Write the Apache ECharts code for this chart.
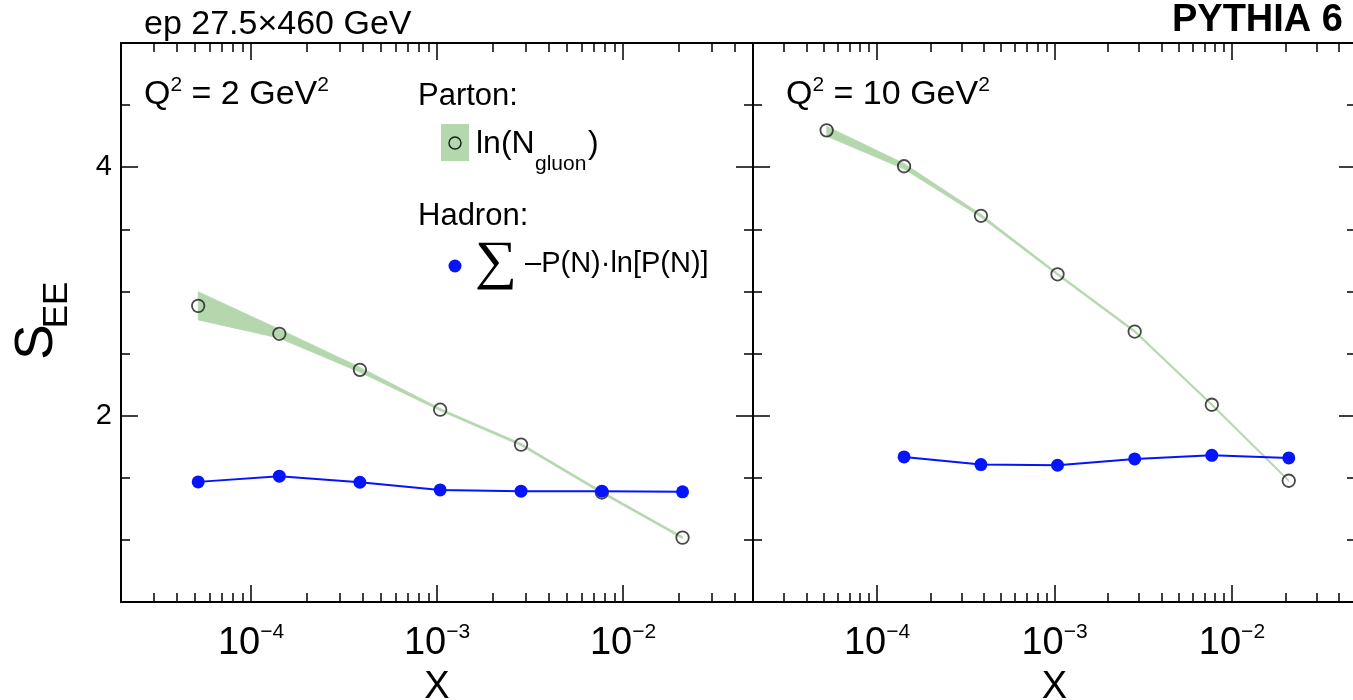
<!DOCTYPE html>
<html>
<head>
<meta charset="utf-8">
<title>S_EE vs x</title>
<script src="https://cdn.jsdelivr.net/npm/echarts@6/dist/echarts.min.js"></script>
<style>
html, body { margin:0; padding:0; background:#fff; }
#main { width:1353px; height:700px; }
</style>
</head>
<body>
<div id="main"></div>
<script>
// x bins, same in both panels
var xBins = [5.2e-5, 1.42e-4, 3.85e-4, 1.04e-3, 2.83e-3, 7.7e-3, 2.09e-2];

// Q2 = 2 GeV2
var partonQ2   = [2.884, 2.659, 2.369, 2.048, 1.767, 1.381, 1.018];
var partonQ2Lo = [2.771, 2.624, 2.350, 2.040, 1.758, 1.373, 1.010];
var partonQ2Hi = [2.998, 2.696, 2.390, 2.058, 1.777, 1.391, 1.027];
var hadronQ2   = [1.467, 1.513, 1.464, 1.402, 1.392, 1.392, 1.387];

// Q2 = 10 GeV2
var partonQ10   = [4.297, 4.008, 3.609, 3.138, 2.677, 2.088, 1.476];
var partonQ10Lo = [4.250, 3.985, 3.598, 3.130, 2.669, 2.080, 1.468];
var partonQ10Hi = [4.330, 4.030, 3.622, 3.148, 2.687, 2.097, 1.485];
var hadronQ10   = [null, 1.668, 1.606, 1.601, 1.652, 1.681, 1.660];

// ticks
var xMajor = [1e-4, 1e-3, 1e-2];
var xMinor = [3e-5, 4e-5, 5e-5, 6e-5, 7e-5, 8e-5, 9e-5,
              2e-4, 3e-4, 4e-4, 5e-4, 6e-4, 7e-4, 8e-4, 9e-4,
              2e-3, 3e-3, 4e-3, 5e-3, 6e-3, 7e-3, 8e-3, 9e-3,
              2e-2, 3e-2, 4e-2];
var yMajor = [2, 4];
var yMinor = [1, 1.5, 2.5, 3, 3.5, 4.5];

var FONT = 'Liberation Sans';
var BAND = '#b4d7ae';
var BLUE = '#0514fa';

function pairs(xs, ys) {
	var out = [];
	for (var i = 0; i < xs.length; i++) {
		out.push([xs[i], ys[i] == null ? '-' : ys[i]]);
	}
	return out;
}

function xLabel(v) {
	var e = Math.round(Math.log(v) / Math.LN10);
	return '{b|10}{s|\u2212' + (-e) + '}';
}

var tickStyle = {color:'#000', width:1.5};
var lineStyle = {color:'#000', width:2};

function xAxesFor(grid) {
	var base = {type:'log', logBase:10, gridIndex:grid, min:2e-5, max:5e-2,
		splitLine:{show:false}, axisPointer:{show:false}};
	return [
		Object.assign({}, base, {position:'bottom', name:'X', nameLocation:'middle', nameGap:64,
			nameTextStyle:{fontFamily:FONT, fontSize:38, lineHeight:40, color:'#000'},
			axisLine:{show:true, onZero:false, lineStyle:lineStyle},
			axisTick:{show:true, inside:true, length:17, customValues:xMajor, lineStyle:tickStyle},
			axisLabel:{show:true, customValues:xMajor, formatter:xLabel, margin:20,
				rich:{
					b:{fontFamily:FONT, fontSize:38, lineHeight:44, color:'#000'},
					s:{fontFamily:FONT, fontSize:21, lineHeight:26, verticalAlign:'top', color:'#000'}
				}}}),
		Object.assign({}, base, {position:'bottom',
			axisLine:{show:false, onZero:false},
			axisTick:{show:true, inside:true, length:9, customValues:xMinor, lineStyle:tickStyle},
			axisLabel:{show:false}}),
		Object.assign({}, base, {position:'top',
			axisLine:{show:true, onZero:false, lineStyle:lineStyle},
			axisTick:{show:true, inside:true, length:17, customValues:xMajor, lineStyle:tickStyle},
			axisLabel:{show:false}}),
		Object.assign({}, base, {position:'top',
			axisLine:{show:false, onZero:false},
			axisTick:{show:true, inside:true, length:9, customValues:xMinor, lineStyle:tickStyle},
			axisLabel:{show:false}})
	];
}

function yAxesFor(grid, showLabel) {
	var base = {type:'value', gridIndex:grid, min:0.5, max:5,
		splitLine:{show:false}, axisPointer:{show:false}};
	return [
		Object.assign({}, base, {position:'left',
			axisLine:{show:true, onZero:false, lineStyle:lineStyle},
			axisTick:{show:true, inside:true, length:17, customValues:yMajor, lineStyle:tickStyle},
			axisLabel:{show:showLabel, customValues:yMajor, margin:9,
				fontFamily:FONT, fontSize:29, color:'#000'}}),
		Object.assign({}, base, {position:'left',
			axisLine:{show:false, onZero:false},
			axisTick:{show:true, inside:true, length:9, customValues:yMinor, lineStyle:tickStyle},
			axisLabel:{show:false}}),
		Object.assign({}, base, {position:'right',
			axisLine:{show:true, onZero:false, lineStyle:lineStyle},
			axisTick:{show:true, inside:true, length:17, customValues:yMajor, lineStyle:tickStyle},
			axisLabel:{show:false}}),
		Object.assign({}, base, {position:'right',
			axisLine:{show:false, onZero:false},
			axisTick:{show:true, inside:true, length:9, customValues:yMinor, lineStyle:tickStyle},
			axisLabel:{show:false}})
	];
}

// green band between lo and hi, one quad per x interval
function bandSeries(xi, yi, lo, hi) {
	var data = [];
	for (var i = 0; i < xBins.length; i++) data.push([xBins[i], lo[i], hi[i]]);
	return {type:'custom', xAxisIndex:xi, yAxisIndex:yi, data:data, silent:true, z:1,
		renderItem:function(params, api) {
			var i = params.dataIndex;
			if (i >= xBins.length - 1) return null;
			var pts = [
				api.coord([xBins[i], hi[i]]),
				api.coord([xBins[i + 1], hi[i + 1]]),
				api.coord([xBins[i + 1], lo[i + 1]]),
				api.coord([xBins[i], lo[i]])
			];
			return {type:'polygon', shape:{points:pts},
				style:{fill:BAND, stroke:BAND, lineWidth:0.7}};
		}};
}

function panelSeries(grid, parton, lo, hi, hadron) {
	var xi = grid * 4, yi = grid * 4;
	return [
		bandSeries(xi, yi, lo, hi),
		{type:'scatter', xAxisIndex:xi, yAxisIndex:yi, data:pairs(xBins, parton),
			symbol:'circle', symbolSize:12.5,
			itemStyle:{color:'rgba(0,0,0,0)', borderColor:'#1a1a1a', borderWidth:1.8}, z:3},
		{type:'line', xAxisIndex:xi, yAxisIndex:yi, data:pairs(xBins, hadron),
			symbol:'circle', symbolSize:13, showAllSymbol:true,
			lineStyle:{color:BLUE, width:2}, itemStyle:{color:BLUE}, z:4}
	];
}

// plain text placed by its baseline
function txt(x, baseline, size, str, extra) {
	var style = {text:str, x:0, y:0, fontFamily:FONT, fontSize:size, lineHeight:size,
		fill:'#000', align:'left', verticalAlign:'top'};
	if (extra) Object.assign(style, extra);
	return {type:'text', x:x, y:baseline - 0.8465 * size, style:style, z:10};
}

function qLabel(x, q) {
	return {type:'text', x:x, y:75, z:10, style:{
		text:'{n|Q}{s|2}{n| = ' + q + ' GeV}{s|2}', x:0, y:0, align:'left', verticalAlign:'top',
		rich:{
			n:{fontFamily:FONT, fontSize:34, lineHeight:40, fill:'#000'},
			s:{fontFamily:FONT, fontSize:21, lineHeight:28, verticalAlign:'top', fill:'#000'}
		}}};
}

var sigma = txt(475, 283, 54, '\u2211', {fontFamily:'Liberation Serif'});
sigma.scaleX = 1.1;

var graphics = [
	txt(144, 36.7, 34, 'ep 27.5\u00d7460 GeV'),
	txt(1343, 33.3, 38, 'PYTHIA 6', {align:'right', fontWeight:'bold'}),
	qLabel(144, '2'),
	qLabel(786, '10'),
	// legend
	txt(418, 107, 31, 'Parton:'),
	{type:'rect', shape:{x:441, y:124, width:28, height:37}, style:{fill:BAND}, z:10},
	{type:'circle', shape:{cx:455, cy:143, r:6}, style:{fill:'none', stroke:'#1a1a1a', lineWidth:1.4}, z:11},
	txt(476, 155, 32, 'ln(N'),
	txt(535, 171.7, 21, 'gluon'),
	txt(588, 155, 32, ')'),
	txt(418, 227, 31, 'Hadron:'),
	{type:'circle', shape:{cx:455, cy:266, r:6.5}, style:{fill:BLUE}, z:11},
	sigma,
	txt(525, 274, 29, '\u2013P(N)\u00b7ln[P(N)]'),
	// y title
	{type:'text', x:37, y:342, rotation:Math.PI / 2, z:10,
		style:{text:'S', x:0, y:0, fontFamily:FONT, fontSize:53, fill:'#000', align:'center', verticalAlign:'middle'}},
	{type:'text', x:57, y:305, rotation:Math.PI / 2, z:10,
		style:{text:'EE', x:0, y:0, fontFamily:FONT, fontSize:35, fill:'#000', align:'center', verticalAlign:'middle'}}
];

var myChart = echarts.init(document.getElementById('main'));
var option = {
	animation:false,
	backgroundColor:'#fff',
	textStyle:{fontFamily:FONT},
	grid:[
		{left:121, top:43, width:632, height:559, outerBoundsMode:'none'},
		{left:753, top:43, width:603, height:559, outerBoundsMode:'none'}
	],
	xAxis:xAxesFor(0).concat(xAxesFor(1)),
	yAxis:yAxesFor(0, true).concat(yAxesFor(1, false)),
	series:panelSeries(0, partonQ2, partonQ2Lo, partonQ2Hi, hadronQ2)
		.concat(panelSeries(1, partonQ10, partonQ10Lo, partonQ10Hi, hadronQ10)),
	graphic:graphics
};
myChart.setOption(option);
</script>
</body>
</html>
